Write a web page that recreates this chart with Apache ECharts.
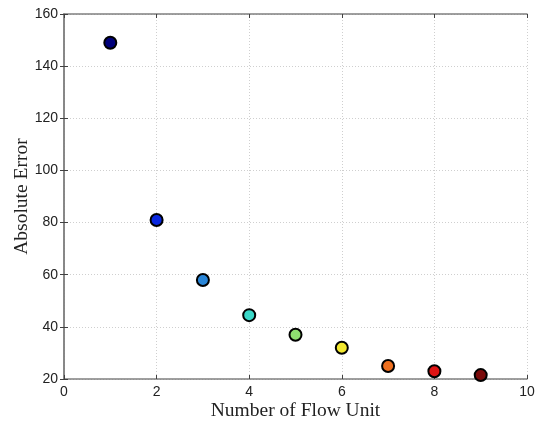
<!DOCTYPE html>
<html>
<head>
<meta charset="utf-8">
<script src="https://cdn.jsdelivr.net/npm/echarts@6/dist/echarts.min.js"></script>
<style>
    html, body { margin: 0; padding: 0; background: #fff; }
    #chart { width: 535px; height: 423px; }
</style>
</head>
<body>
<div id="chart"></div>
<script>
// flow unit count vs absolute error
const flowUnits = [1, 2, 3, 4, 5, 6, 7, 8, 9]
const absError = [149, 81, 58, 44.5, 37, 32, 25, 23, 21.5]
// jet-like marker colours
const pointColors = ['#00007a', '#0a28e0', '#2a86d8', '#3ad8c8', '#8ee070', '#f2e830', '#ee7020', '#e01414', '#7a0a0a']

const chart = echarts.init(document.getElementById('chart'))

const axisLine = { show: true, lineStyle: { color: '#808080', width: 1.5 } }
const gridLine = { show: true, lineStyle: { color: '#cfcfcf', type: [1, 2], width: 1 } }
const tickStyle = { show: true, inside: true, length: 4, lineStyle: { color: '#404040' } }
const labelStyle = { color: '#222', fontFamily: 'Liberation Sans', fontSize: 14 }

chart.setOption({
    animation: false,
    grid: { left: 64, right: 8, top: 14, bottom: 44, outerBoundsMode: 'none' },
    xAxis: [
        {
            type: 'value', min: 0, max: 10, interval: 2,
            name: 'Number of Flow Unit', nameLocation: 'middle', nameGap: 22, nameMoveOverlap: false,
            nameTextStyle: { fontFamily: 'Liberation Serif', fontSize: 19.5, color: '#222' },
            axisLine, axisTick: tickStyle, splitLine: gridLine,
            axisLabel: { ...labelStyle, margin: 6 },
        },
        {
            type: 'value', min: 0, max: 10, interval: 2, position: 'top',
            axisLine, axisTick: tickStyle, splitLine: { show: false }, axisLabel: { show: false },
        },
    ],
    yAxis: [
        {
            type: 'value', min: 20, max: 160, interval: 20,
            name: 'Absolute Error', nameLocation: 'middle', nameGap: 32, nameMoveOverlap: false,
            nameTextStyle: { fontFamily: 'Liberation Serif', fontSize: 19.5, color: '#222' },
            axisLine, axisTick: tickStyle, splitLine: gridLine,
            axisLabel: { ...labelStyle, margin: 6 },
        },
        {
            type: 'value', min: 20, max: 160, interval: 20, position: 'right',
            axisLine, axisTick: tickStyle, splitLine: { show: false }, axisLabel: { show: false },
        },
    ],
    series: [
        {
            type: 'scatter',
            symbolSize: 12,
            data: flowUnits.map((x, i) => ({
                value: [x, absError[i]],
                itemStyle: { color: pointColors[i], borderColor: '#000', borderWidth: 2, opacity: 1 },
            })),
        },
    ],
})
</script>
</body>
</html>
